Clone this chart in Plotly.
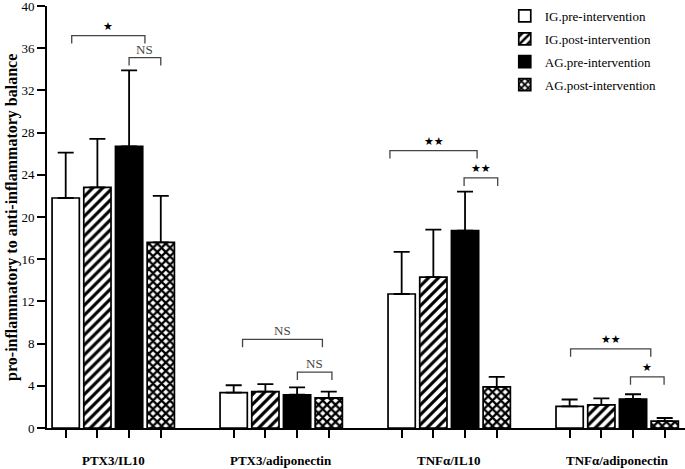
import plotly.graph_objects as go

categories = ["PTX3/IL10", "PTX3/adiponectin", "TNFα/IL10", "TNFα/adiponectin"]
series_names = ["IG.pre-intervention", "IG.post-intervention", "AG.pre-intervention", "AG.post-intervention"]

ig_pre = [21.8, 3.35, 12.7, 2.05]
ig_pre_sd = [4.3, 0.7, 4.0, 0.65]
ig_post = [22.8, 3.45, 14.3, 2.2]
ig_post_sd = [4.6, 0.7, 4.5, 0.6]
ag_pre = [26.7, 3.15, 18.7, 2.75]
ag_pre_sd = [7.2, 0.7, 3.7, 0.45]
ag_post = [17.6, 2.85, 3.9, 0.65]
ag_post_sd = [4.4, 0.6, 0.95, 0.3]

y_ticks = [0, 4, 8, 12, 16, 20, 24, 28, 32, 36, 40]

# significance brackets: (x start, x end in bar-slot units, height, label)
brackets = [
    (0.19, 2.5, 37.2, "★"),
    (2.0, 3.0, 35.1, "NS"),
    (5.58, 8.1, 8.4, "NS"),
    (7.31, 8.4, 5.3, "NS"),
    (10.23, 12.98, 26.3, "★★"),
    (12.57, 13.63, 23.7, "★★"),
    (15.93, 18.46, 7.5, "★★"),
    (17.82, 18.88, 4.85, "★"),
]

GROUP_STEP = 5.3
values = [ig_pre, ig_post, ag_pre, ag_post]
sds = [ig_pre_sd, ig_post_sd, ag_pre_sd, ag_post_sd]
styles = [
    dict(color="white", pattern=dict(shape="")),
    dict(color="white", pattern=dict(shape="/", fgcolor="black", bgcolor="white", size=7, solidity=0.45, fillmode="replace")),
    dict(color="black", pattern=dict(shape="")),
    dict(color="black", pattern=dict(shape="x", fgcolor="black", bgcolor="white", size=6, solidity=0.62, fillmode="replace")),
]

serif = "Liberation Serif, Times New Roman, serif"
fig = go.Figure()
all_x = []
for s in range(4):
    xs = [g * GROUP_STEP + s for g in range(len(categories))]
    all_x += xs
    st = styles[s]
    fig.add_trace(go.Bar(
        x=xs, y=values[s], name=series_names[s], width=0.86,
        legendgroup=str(s),
        marker=dict(color=st["color"], line=dict(color="black", width=1.7), pattern=st["pattern"]),
        error_y=dict(type="data", array=sds[s], arrayminus=[0] * 4, symmetric=False,
                     color="black", thickness=1.8, width=8),
    ))

arm = 0.75
for x0, x1, yb, lab in brackets:
    fig.add_shape(type="path",
                  path=f"M {x0} {yb-arm} L {x0} {yb} L {x1} {yb} L {x1} {yb-arm}",
                  line=dict(color="#444444", width=1.3), xref="x", yref="y")
    is_star = "★" in lab
    fig.add_annotation(x=(x0 + x1) / 2, y=yb, text=lab, showarrow=False, yanchor="bottom",
                       yshift=1 if is_star else -1,
                       font=dict(family="DejaVu Sans" if is_star else serif, size=11 if is_star else 13,
                                 color="black" if is_star else "#444444"))

for g, c in enumerate(categories):
    fig.add_annotation(x=g * GROUP_STEP + 1.5, y=-0.078, xref="x", yref="paper", text=f"<b>{c}</b>",
                       showarrow=False, yanchor="middle", xanchor="center",
                       font=dict(family=serif, size=13, color="black"))

fig.add_annotation(x=-0.055, y=0.5, xref="paper", yref="paper", text="<b>pro-inflammatory to anti-inflammatory balance</b>",
                   textangle=-90, showarrow=False, xanchor="center", yanchor="middle",
                   font=dict(family=serif, size=16, color="black"))

fig.update_layout(
    width=685, height=469,
    margin=dict(l=47, r=0, t=6, b=41),
    plot_bgcolor="white", paper_bgcolor="white",
    barmode="overlay",
    showlegend=True,
    legend=dict(x=0.7175, y=1.012, xanchor="left", yanchor="top", traceorder="grouped", tracegroupgap=3,
                font=dict(family=serif, size=13, color="black"), bgcolor="rgba(0,0,0,0)"),
    xaxis=dict(range=[-0.59, 19.54], tickvals=all_x, ticktext=[""] * len(all_x), ticks="outside",
               ticklen=8, tickwidth=1.8, tickcolor="black", showline=True, linecolor="black", linewidth=1.8,
               showgrid=False, zeroline=False),
    yaxis=dict(range=[0, 40], tickvals=y_ticks, ticks="outside", ticklen=8, tickwidth=1.8, tickcolor="black",
               showline=True, linecolor="black", linewidth=1.8, showgrid=False, zeroline=False,
               ticklabeloverflow="allow",
               tickfont=dict(family=serif, size=13, color="black"), tickprefix="<b>", ticksuffix="</b>"),
)

fig.write_html("out.html", config={"displayModeBar": False},
               post_script="document.body.style.margin='0';")
